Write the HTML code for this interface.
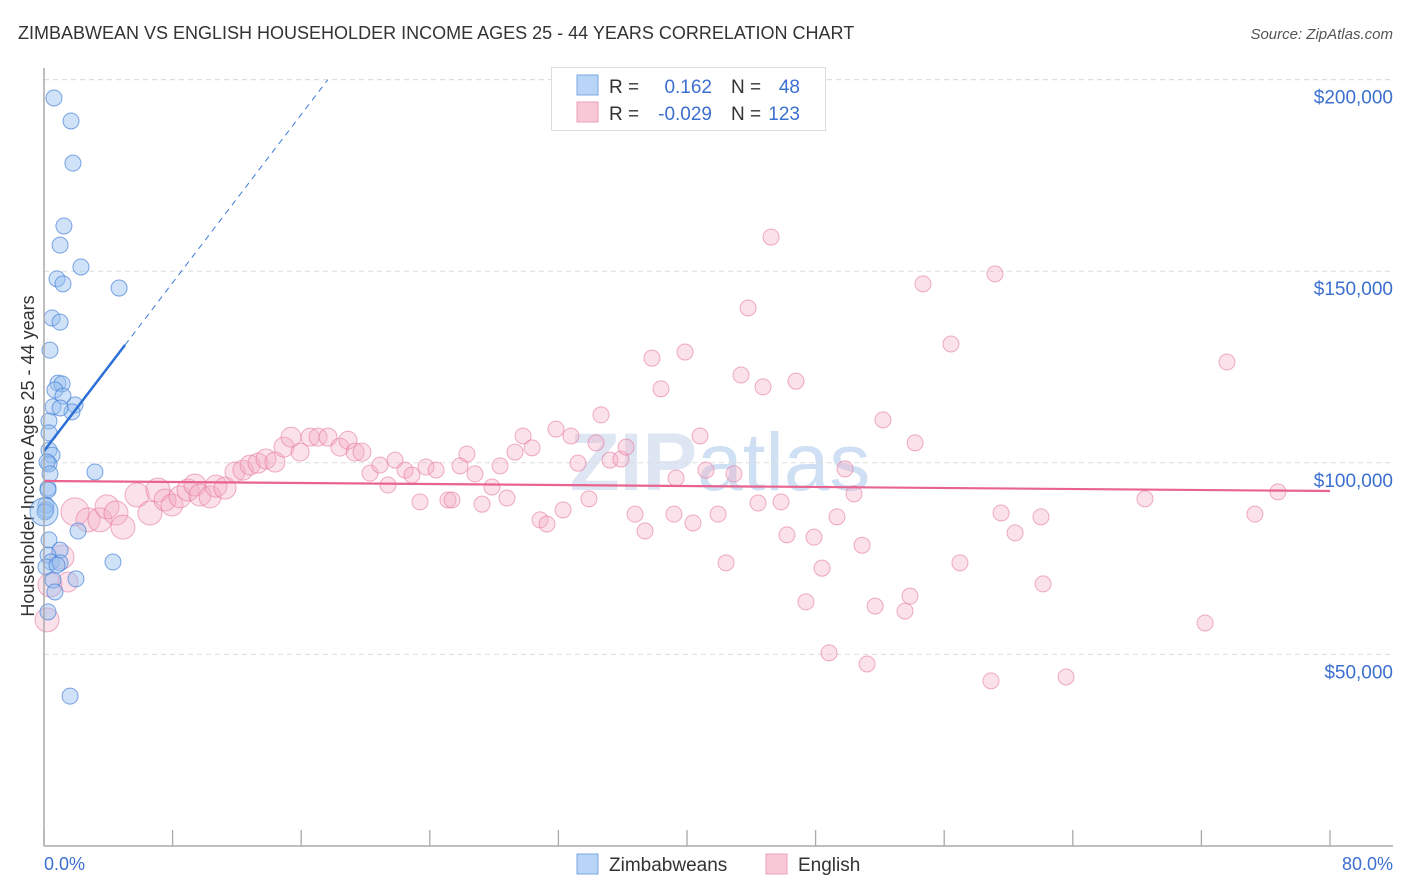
<!DOCTYPE html>
<html><head><meta charset="utf-8"><style>
body{margin:0;background:#fff;font-family:"Liberation Sans",sans-serif}
svg{display:block}
</style></head><body>
<svg id="chart" width="1406" height="892">
<text x="18" y="39" font-size="18" fill="#333">ZIMBABWEAN VS ENGLISH HOUSEHOLDER INCOME AGES 25 - 44 YEARS CORRELATION CHART</text>
<text x="1393" y="39" font-size="15" fill="#555" font-style="italic" text-anchor="end">Source: ZipAtlas.com</text>
<text x="720" y="490" font-size="82" fill="#dde6f2" text-anchor="middle" font-weight="bold">ZIP<tspan font-weight="normal" fill="#cfe0f4">atlas</tspan></text>
<text transform="translate(34,456) rotate(-90)" font-size="18" fill="#333" text-anchor="middle">Householder Income Ages 25 - 44 years</text>
<g id="grid"></g>
<g id="pts"></g>
<g id="trend"></g>
<line x1="44" y1="68" x2="44" y2="846" stroke="#aaa" stroke-width="1.5"/>
<line x1="44" y1="846" x2="1393" y2="846" stroke="#aaa" stroke-width="1.5"/>
<text x="44" y="870" font-size="18" fill="#3b6fd0">0.0%</text>
<text x="1393" y="870" font-size="18" fill="#3b6fd0" text-anchor="end">80.0%</text>
<g>
<rect x="551.5" y="67.5" width="274" height="63" fill="#fff" stroke="#ddd"/>
<rect x="577" y="75" width="21" height="20" fill="#b8d4f6" stroke="#7aa9e4"/>
<rect x="577" y="102" width="21" height="20" fill="#f8c8d6" stroke="#eba0b7"/>
<text x="609" y="93" font-size="19" fill="#333">R =</text>
<text x="712" y="93" font-size="19" fill="#3b6fd0" text-anchor="end">0.162</text>
<text x="731" y="93" font-size="19" fill="#333">N =</text>
<text x="800" y="93" font-size="19" fill="#3b6fd0" text-anchor="end">48</text>
<text x="609" y="120" font-size="19" fill="#333">R =</text>
<text x="712" y="120" font-size="19" fill="#3b6fd0" text-anchor="end">-0.029</text>
<text x="731" y="120" font-size="19" fill="#333">N =</text>
<text x="800" y="120" font-size="19" fill="#3b6fd0" text-anchor="end">123</text>
</g>
<g>
<rect x="577" y="854" width="21" height="20" fill="#b8d4f6" stroke="#7aa9e4"/>
<text x="609" y="871" font-size="19" fill="#333">Zimbabweans</text>
<rect x="766" y="854" width="21" height="20" fill="#f8c8d6" stroke="#eba0b7"/>
<text x="798" y="871" font-size="19" fill="#333">English</text>
</g>
</svg>
<script>
const yTicks=[50000,100000,150000,200000];
const yTickLabels=["$50,000","$100,000","$150,000","$200,000"];
const xTicks=[0,8,16,24,32,40,48,56,64,72,80];
const blueX=[0.62,1.68,1.80,1.24,1.00,2.30,0.81,1.18,4.67,0.50,1.00,0.37,0.87,1.12,0.68,1.18,1.93,1.74,0.56,1.00,0.31,0.31,0.31,0.50,0.31,3.17,0.25,0.12,0.12,0.06,2.12,0.31,1.00,0.25,0.44,0.12,1.00,4.29,0.56,1.99,0.68,0.25,1.62,0.19,0.37,0.81,0.25,0.0];
const blueY=[195200,189200,178200,161800,156800,151100,148000,146700,145600,137800,136700,129400,120800,120600,119000,117400,115100,113300,114600,114300,110900,107800,103300,102000,99700,97600,93400,89000,87700,87200,82200,79900,77200,75900,74100,72800,73900,74100,69400,69700,66300,61100,39100,100200,97100,73300,92900,87200];
const blueR=[8,8,8,8,8,8,8,8,8,8,8,8,8,8,8,8,8,8,8,8,8,8,8,8,8,8,8,8,8,8,8,8,8,8,8,8,8,8,8,8,8,8,8,8,8,8,8,14];
const pinkX=[0.19,0.37,1.12,1.49,1.93,2.74,3.48,3.92,4.48,4.91,5.79,6.59,7.09,7.53,7.96,8.46,8.96,9.39,9.70,10.33,10.70,11.26,11.88,12.38,12.82,13.31,13.81,14.37,14.93,15.37,15.93,16.55,17.05,17.67,18.41,18.91,19.35,19.78,20.28,20.90,21.40,21.84,22.46,22.89,23.39,23.76,24.39,25.13,25.38,25.88,26.31,26.81,27.25,27.87,28.37,28.80,29.30,29.80,30.36,30.86,31.29,31.85,32.29,32.78,33.22,33.90,34.34,34.65,35.21,35.89,36.21,36.77,37.39,37.82,38.38,39.19,39.32,39.88,40.37,40.81,41.18,41.93,42.43,42.92,43.36,43.80,44.42,44.73,45.23,45.85,46.22,46.78,47.40,47.90,48.40,48.84,49.33,49.83,50.39,50.89,51.20,51.70,52.19,53.56,53.87,54.19,54.68,56.42,56.98,58.91,59.16,59.54,60.41,62.02,62.15,63.58,68.49,72.23,73.59,75.33,76.76];
const pinkY=[59000,68100,75400,68900,87200,85100,85100,88500,86900,83200,91600,86900,92900,90300,89000,91100,92900,94200,91600,91100,93900,93400,97600,98100,99400,99900,101000,100200,104100,106700,102800,106700,106700,106700,104100,105900,102800,102800,97300,99400,94200,100700,98100,96800,89800,98900,98100,90300,90300,99200,102300,97100,89200,93700,99200,90800,102800,107000,103900,85100,84000,108800,87700,107000,99900,90600,105200,112500,100700,101000,104100,86600,82200,127300,119300,86600,96000,128900,84300,107000,98100,86600,73900,97100,122900,140400,89500,119800,158900,89800,81200,121300,63700,80600,72500,50400,85900,98400,91900,78500,47500,62600,111200,61300,65200,105200,146700,131000,73900,43100,149300,86900,81700,85900,68400,44100,90600,58200,126300,86600,92400];
const pinkR=[12,12,12,10,14,12,12,12,12,12,12,12,12,11,11,11,11,11,11,11,11,11,10,10,10,10,10,10,10,10,9,9,9,9,9,9,9,9];
const blueTrend=[103080,130740,5.04,17.65];
const pinkTrend=[95250,92640];
const NS='http://www.w3.org/2000/svg';
const X=p=>44+p*(1286/80);
const Y=v=>846-v*(766.4/200000);
function mk(t,a,parent){const e=document.createElementNS(NS,t);for(const k in a)e.setAttribute(k,a[k]);parent.appendChild(e);return e;}
const grid=document.getElementById('grid');
yTicks.forEach((v,i)=>{
 const l=mk('line',{x1:44,x2:1393,y1:Y(v),y2:Y(v),stroke:'#ddd','stroke-dasharray':'5,4'},grid);
 
 
 const t=mk('text',{x:1393,y:Y(v)+24,'font-size':19,fill:'#3b6fd0','text-anchor':'end'},grid);
 t.textContent=yTickLabels[i];
 
 
});
{const l=mk('line',{x1:44,x2:1393,y1:Y(200000),y2:Y(200000),stroke:'#ddd','stroke-dasharray':'5,4'},grid);
 
 }
xTicks.forEach(p=>{
 const l=mk('line',{x1:X(p),x2:X(p),y1:830,y2:846,stroke:'#aaa','stroke-width':1.3},grid);
 
 
});
const pts=document.getElementById('pts');
pinkX.forEach((p,i)=>{
 const c=mk('circle',{cx:X(p),cy:Y(pinkY[i]),r:pinkR[i]||8,fill:'rgba(244,168,194,0.35)',stroke:'rgba(230,120,160,0.6)','stroke-width':1},pts);
 
 
});
blueX.forEach((p,i)=>{
 const c=mk('circle',{cx:X(p),cy:Y(blueY[i]),r:blueR[i],fill:'rgba(150,190,240,0.45)',stroke:'rgba(70,130,215,0.7)','stroke-width':1},pts);
 
 
});
const tr=document.getElementById('trend');
const slope=(blueTrend[1]-blueTrend[0])/blueTrend[2];
{const l=mk('line',{x1:X(blueTrend[2]),y1:Y(blueTrend[1]),x2:X(blueTrend[3]),y2:Y(blueTrend[0]+slope*blueTrend[3]),stroke:'#3b7ad8','stroke-width':1,'stroke-dasharray':'6,5'},tr);
 
 }
{const l=mk('line',{x1:X(0),y1:Y(blueTrend[0]),x2:X(blueTrend[2]),y2:Y(blueTrend[1]),stroke:'#2c6fd6','stroke-width':2.5},tr);
 
 }
{const l=mk('line',{x1:X(0),y1:Y(pinkTrend[0]),x2:X(80),y2:Y(pinkTrend[1]),stroke:'#e8648e','stroke-width':2.2},tr);
 
 }
</script>
</body></html>
